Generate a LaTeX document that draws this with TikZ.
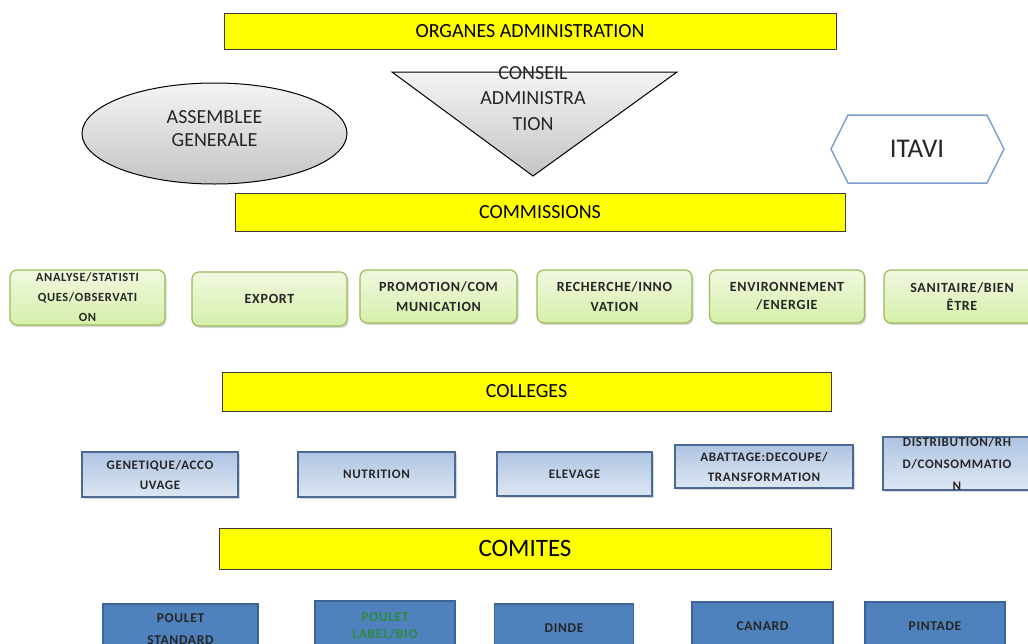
\documentclass[tikz,border=0pt]{standalone}
\usepackage{fontspec}
\setmainfont{Carlito}
\newfontfamily\smf[LetterSpace=5]{Carlito Bold}
\usetikzlibrary{shadows,shapes.geometric}
\definecolor{baryellow}{HTML}{FFFF00}
\definecolor{barline}{HTML}{3A3A3A}
\definecolor{greentop}{HTML}{F0F9E0}
\definecolor{greenbot}{HTML}{D6EFAA}
\definecolor{greenline}{HTML}{9BBB59}
\definecolor{lbtop}{HTML}{AFC4E2}
\definecolor{lbbot}{HTML}{DDE7F3}
\definecolor{lbline}{HTML}{4A6A96}
\definecolor{dbfill}{HTML}{4F81BD}
\definecolor{dbline}{HTML}{3C6595}
\definecolor{graytop}{HTML}{F4F4F4}
\definecolor{graybot}{HTML}{C4C4C4}
\definecolor{itaviline}{HTML}{7BA0CD}
\definecolor{txtdark}{HTML}{262626}
\definecolor{biogreen}{HTML}{2E8B3E}
\begin{document}
\begin{tikzpicture}[x=1pt,y=-1pt,
  bar/.style={draw=barline, fill=baryellow, line width=0.8pt, inner sep=0pt,
    font=\fontsize{20}{24}\selectfont, text=black},
  gbox/.style={draw=greenline, line width=1.2pt, rounded corners=7pt,
    top color=greentop, bottom color=greenbot, inner sep=0pt, align=center,
    text=txtdark, font=\smf\fontsize{14}{20}\selectfont,
    drop shadow={shadow xshift=1.5pt, shadow yshift=-2pt, opacity=0.3}},
  lbox/.style={draw=lbline, line width=1.4pt,
    top color=lbtop, bottom color=lbbot, inner sep=0pt, align=center,
    text=txtdark, font=\smf\fontsize{13}{20}\selectfont,
    drop shadow={shadow xshift=1.5pt, shadow yshift=-2pt, opacity=0.3}},
  dbox/.style={draw=dbline, line width=1.2pt, fill=dbfill, inner sep=0pt,
    align=center, text=txtdark, font=\smf\fontsize{13.5}{22}\selectfont},
  graytext/.style={align=center, text=txtdark, inner sep=0pt}
]
\useasboundingbox (0,0) rectangle (1028,643);
\clip (0,0) rectangle (1028,643);
\fill[white] (0,0) rectangle (1028,643);

% bars
\node[bar, minimum width=612pt, minimum height=36pt] (org) at (530,31) {ORGANES ADMINISTRATION};
\node[bar, minimum width=610pt, minimum height=38pt] (comm) at (540,212) {COMMISSIONS};
\node[bar, minimum width=609pt, minimum height=39pt] (coll) at (526.5,391.5) {COLLEGES};
\node[bar, minimum width=612pt, minimum height=41pt, font=\fontsize{25}{30}\selectfont] (comi) at (525,548.5) {COMITES};

% assemblee generale
\node[ellipse, draw=black, line width=1pt, top color=graytop, bottom color=graybot,
  minimum width=265pt, minimum height=101pt, inner sep=0pt] (ag) at (214.5,133.5) {};
\node[graytext, font=\fontsize{20}{23}\selectfont] (agt) at (214.5,129) {ASSEMBLEE\\GENERALE};

% conseil administration
\path[draw=black, line width=1pt, top color=graytop, bottom color=graybot]
  (392,72) -- (677,72) -- (533,176) -- cycle;
\node[graytext, font=\fontsize{20}{25.5}\selectfont] (ca) at (533,98.5) {CONSEIL\\ADMINISTRA\\TION};

% itavi
\draw[itaviline, line width=1.5pt] (831,149) -- (848,115) -- (987,115) -- (1004,149) -- (987,183) -- (848,183) -- cycle;
\node[graytext, font=\fontsize{27}{30}\selectfont] (itavi) at (917,149) {ITAVI};

% commissions
\node[gbox, minimum width=155pt, minimum height=55pt, font=\smf\fontsize{12.5}{20}\selectfont] (g1) at (87.5,297.5) {ANALYSE/STATISTI\\QUES/OBSERVATI\\ON};
\node[gbox, minimum width=155pt, minimum height=54pt] (g2) at (269.5,299) {EXPORT};
\node[gbox, minimum width=157pt, minimum height=53pt] (g3) at (438.5,296.5) {PROMOTION/COM\\MUNICATION};
\node[gbox, minimum width=155pt, minimum height=53pt] (g4) at (614.5,296.5) {RECHERCHE/INNO\\VATION};
\node[gbox, minimum width=155pt, minimum height=53pt, font=\smf\fontsize{14}{18}\selectfont] (g5) at (787,296.5) {ENVIRONNEMENT\\/ENERGIE};
\node[gbox, minimum width=156pt, minimum height=53pt, font=\smf\fontsize{14}{18}\selectfont] (g6) at (962,296.5) {SANITAIRE/BIEN\\ÊTRE};

% colleges
\node[lbox, minimum width=156pt, minimum height=45pt] (l1) at (160,474.5) {GENETIQUE/ACCO\\UVAGE};
\node[lbox, minimum width=157pt, minimum height=45pt] (l2) at (376.5,474.5) {NUTRITION};
\node[lbox, minimum width=155pt, minimum height=44pt] (l3) at (574.5,474) {ELEVAGE};
\node[lbox, minimum width=178pt, minimum height=43pt] (l4) at (764,466.5) {ABATTAGE:DECOUPE/\\TRANSFORMATION};
\node[lbox, minimum width=148pt, minimum height=46pt, font=\smf\fontsize{13}{22}\selectfont] (l5) at (957,463.5) {DISTRIBUTION/RH\\D/CONSOMMATIO\\N};

% comites
\node[dbox, minimum width=155pt, minimum height=50pt] (d1) at (180.5,629) {POULET\\STANDARD};
\node[dbox, minimum width=140pt, minimum height=50pt, text=biogreen, font=\smf\fontsize{13.5}{17}\selectfont] (d2) at (385,626) {POULET\\LABEL/BIO};
\node[dbox, minimum width=139pt, minimum height=48pt] (d3) at (564,628) {DINDE};
\node[dbox, minimum width=141pt, minimum height=48pt] (d4) at (762.5,626) {CANARD};
\node[dbox, minimum width=140pt, minimum height=48pt] (d5) at (935,626) {PINTADE};
\end{tikzpicture}
\end{document}
